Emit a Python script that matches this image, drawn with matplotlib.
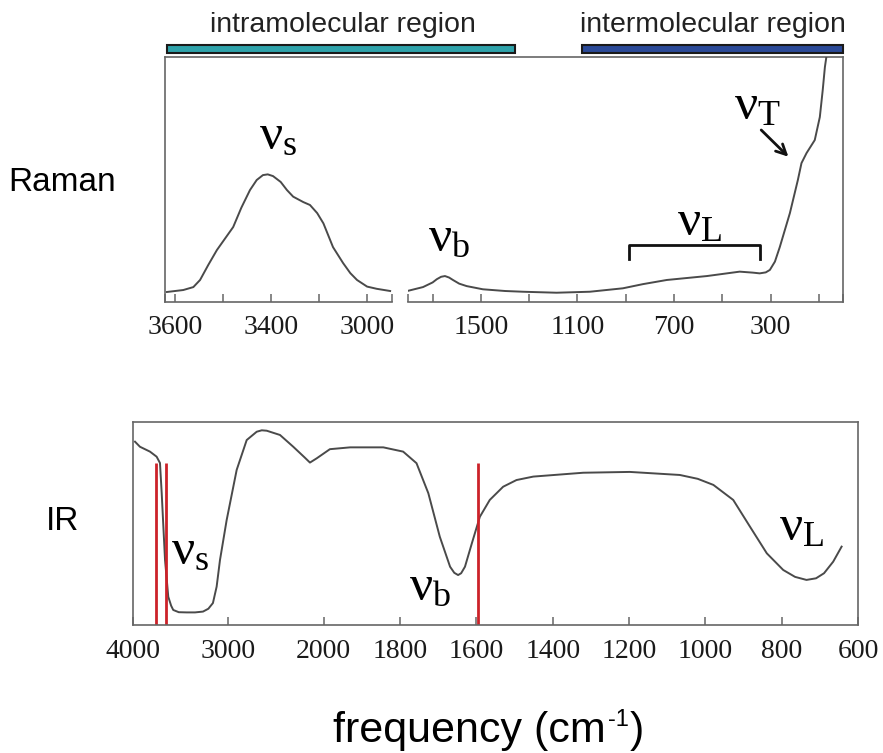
import numpy as np
import matplotlib
matplotlib.use('Agg')
import matplotlib.pyplot as plt
from matplotlib.patches import Rectangle

plt.rcParams['mathtext.fontset'] = 'custom'
plt.rcParams['mathtext.rm'] = 'Liberation Serif'
plt.rcParams['mathtext.it'] = 'Liberation Serif'
plt.rcParams['mathtext.sf'] = 'Liberation Sans'

# Raman, high-frequency part (cm-1, relative intensity)
raman_hi_cm = [3617, 3583, 3562, 3548, 3531, 3513, 3479, 3462, 3444, 3430, 3417, 3407, 3396, 3380,
               3367, 3354, 3333, 3319, 3304, 3291, 3271, 3250, 3235, 3221, 3200, 3180, 3152]
raman_hi_int = [0.041, 0.049, 0.061, 0.09, 0.151, 0.212, 0.306, 0.385, 0.457, 0.498, 0.518, 0.521,
                0.514, 0.490, 0.457, 0.430, 0.408, 0.396, 0.363, 0.321, 0.224, 0.159, 0.118, 0.09,
                0.063, 0.054, 0.045]
raman_hi_ticks = [3600, 3500, 3400, 3300, 3200]
raman_hi_labels = ['3600', '', '3400', '', '3000']

# Raman, low-frequency part
raman_lo_cm = [1801, 1740, 1700, 1683, 1665, 1649, 1632, 1616, 1590, 1559, 1492, 1400, 1326, 1187,
               1049, 912, 829, 730, 564, 428, 374, 345, 320, 303, 282, 262, 220, 187, 172, 151,
               117, 96, 84, 75, 66]
raman_lo_int = [0.046, 0.061, 0.080, 0.093, 0.103, 0.106, 0.100, 0.090, 0.075, 0.065, 0.052, 0.045,
                0.042, 0.038, 0.042, 0.056, 0.073, 0.090, 0.106, 0.124, 0.120, 0.117, 0.121, 0.131,
                0.165, 0.224, 0.363, 0.498, 0.567, 0.608, 0.661, 0.755, 0.865, 0.959, 1.02]
raman_lo_ticks = [1700, 1500, 1300, 1100, 900, 700, 500, 300, 100]
raman_lo_labels = ['', '1500', '', '1100', '', '700', '', '300', '']

# IR absorption (transmission, relative)
ir_cm = [3979, 3927, 3822, 3752, 3717, 3699, 3664, 3630, 3600, 3578, 3520, 3437, 3350, 3266, 3210,
         3162, 3123, 3088, 3018, 2913, 2808, 2703, 2650, 2598, 2459, 2320, 2200, 2145, 2074, 1984,
         1931, 1844, 1792, 1757, 1726, 1696, 1669, 1658, 1648, 1640, 1630, 1612, 1591, 1565, 1530,
         1495, 1451, 1320, 1198, 1067, 1020, 979, 927, 883, 839, 796, 765, 735, 710, 689, 665, 643]
ir_tr = [0.903, 0.878, 0.854, 0.829, 0.798, 0.650, 0.320, 0.139, 0.095, 0.074, 0.063, 0.062, 0.062,
         0.066, 0.080, 0.108, 0.189, 0.320, 0.517, 0.764, 0.911, 0.952, 0.959, 0.957, 0.936, 0.878,
         0.825, 0.800, 0.821, 0.866, 0.875, 0.875, 0.854, 0.797, 0.649, 0.435, 0.287, 0.257, 0.246,
         0.255, 0.287, 0.402, 0.533, 0.616, 0.681, 0.714, 0.731, 0.750, 0.754, 0.739, 0.720, 0.690,
         0.616, 0.484, 0.353, 0.271, 0.237, 0.222, 0.230, 0.255, 0.312, 0.386]
ir_ticks = [4000, 3000, 2000, 1800, 1600, 1400, 1200, 1000, 800, 600]
ir_labels = ['4000', '3000', '2000', '1800', '1600', '1400', '1200', '1000', '800', '600']
gas_lines = [3756, 3657, 1595]

curve_col = '#4a4a4a'
spine_col = '#666666'
serif = 'Liberation Serif'
sans = 'Liberation Sans'

fig = plt.figure(figsize=(8.83, 7.53), dpi=100)


def style_bottom(ax, ticks, labels, lim):
    for s in ['top', 'left', 'right']:
        ax.spines[s].set_visible(False)
    ax.spines['bottom'].set_color(spine_col)
    ax.spines['bottom'].set_linewidth(1.2)
    ax.patch.set_alpha(0)
    ax.set_xlim(*lim)
    ax.set_ylim(0, 1)
    ax.set_yticks([])
    ax.set_xticks(list(lim) + ticks)
    ax.set_xticklabels([''] * 2 + labels, fontfamily=serif)
    ax.tick_params(axis='x', direction='in', length=6, width=1.1, color=spine_col,
                   labelsize=20, pad=9, labelcolor='#1a1a1a')


# Raman frame
frame = fig.add_axes([0.1869, 0.5989, 0.7678, 0.3254])
frame.set_xticks([])
frame.set_yticks([])
frame.spines['bottom'].set_visible(False)
for s in ['top', 'left', 'right']:
    frame.spines[s].set_color(spine_col)
    frame.spines[s].set_linewidth(1.2)

axL = fig.add_axes([0.1869, 0.5989, 0.2571, 0.3254])
style_bottom(axL, raman_hi_ticks, raman_hi_labels, (3621, 3148))
axL.plot(raman_hi_cm, raman_hi_int, color=curve_col, lw=1.4, solid_joinstyle='round')

axR = fig.add_axes([0.4621, 0.5989, 0.4926, 0.3254])
style_bottom(axR, raman_lo_ticks, raman_lo_labels, (1802, 0))
axR.plot(raman_lo_cm, raman_lo_int, color=curve_col, lw=1.4, solid_joinstyle='round')

# region bars
frame.add_patch(Rectangle((0.003, 1.016), 0.513, 0.033, transform=frame.transAxes,
                          facecolor='#2fa3ab', edgecolor='#1a1a1a', lw=1.5, clip_on=False))
frame.add_patch(Rectangle((0.615, 1.016), 0.385, 0.033, transform=frame.transAxes,
                          facecolor='#2b4a98', edgecolor='#1a1a1a', lw=1.5, clip_on=False))
frame.text(0.263, 1.13, 'intramolecular region', transform=frame.transAxes, ha='center',
           va='center', fontsize=20.5, fontfamily=sans, color='#222222')
frame.text(0.808, 1.13, 'intermolecular region', transform=frame.transAxes, ha='center',
           va='center', fontsize=20.5, fontfamily=sans, color='#222222')

# Raman band labels
axL.text(3385, 0.68, r'$\nu_\mathrm{s}$', fontsize=37, ha='center', va='center')
axR.text(1632, 0.265, r'$\nu_\mathrm{b}$', fontsize=37, ha='center', va='center')
axR.text(593, 0.33, r'$\nu_\mathrm{L}$', fontsize=37, ha='center', va='center')
axR.text(357, 0.805, r'$\nu_\mathrm{T}$', fontsize=37, ha='center', va='center')
axR.plot([887, 887, 342, 342], [0.176, 0.233, 0.233, 0.176], color='#111111', lw=2)
axR.annotate('', xy=(218, 0.585), xytext=(347, 0.71),
             arrowprops=dict(arrowstyle='->', color='#111111', lw=2, mutation_scale=18))

fig.text(0.070, 0.758, 'Raman', fontsize=24, fontfamily=sans, ha='center', va='center')
fig.text(0.071, 0.307, 'IR', fontsize=24, fontfamily=sans, ha='center', va='center')

# axis title with a raised "-1"
t1 = fig.text(0.377, 0.0146, 'frequency (cm', fontsize=31, fontfamily=sans,
              ha='left', va='baseline')
t2 = plt.annotate('-1', xy=(1.0, 0.62), xycoords=t1, xytext=(1.5, 0),
                  textcoords='offset points', fontsize=17, fontfamily=sans,
                  ha='left', va='baseline', annotation_clip=False)
plt.annotate(')', xy=(1.0, 0.0), xycoords=(t2, t1), xytext=(1.0, 0),
             textcoords='offset points', fontsize=31, fontfamily=sans,
             ha='left', va='bottom', annotation_clip=False)


# IR panel, scale compressed 4x above 2000 cm-1
def fwd(x):
    x = np.asarray(x, dtype=float)
    return np.where(x > 2000, 2000 + (x - 2000) / 4.0, x)


def inv(u):
    u = np.asarray(u, dtype=float)
    return np.where(u > 2000, 2000 + (u - 2000) * 4.0, u)


ax = fig.add_axes([0.1506, 0.1700, 0.8211, 0.2696])
ax.set_xscale('function', functions=(fwd, inv))
ax.set_xlim(4000, 600)
ax.set_ylim(0, 1)
ax.set_yticks([])
ax.set_xticks(ir_ticks)
ax.set_xticklabels(ir_labels, fontfamily=serif)
ax.minorticks_off()
ax.tick_params(axis='x', direction='in', length=6, width=1.1, color=spine_col,
               labelsize=20, pad=10, labelcolor='#1a1a1a')
for s in ax.spines.values():
    s.set_color(spine_col)
    s.set_linewidth(1.2)
ax.plot(ir_cm, ir_tr, color=curve_col, lw=1.4, solid_joinstyle='round')
ax.vlines(gas_lines, 0, 0.80, color='#cc2229', lw=2)
ax.text(3402, 0.37, r'$\nu_\mathrm{s}$', fontsize=37, ha='center', va='center')
ax.text(1722, 0.19, r'$\nu_\mathrm{b}$', fontsize=37, ha='center', va='center')
ax.text(747, 0.485, r'$\nu_\mathrm{L}$', fontsize=37, ha='center', va='center')

fig.savefig('out.png', dpi=100)
